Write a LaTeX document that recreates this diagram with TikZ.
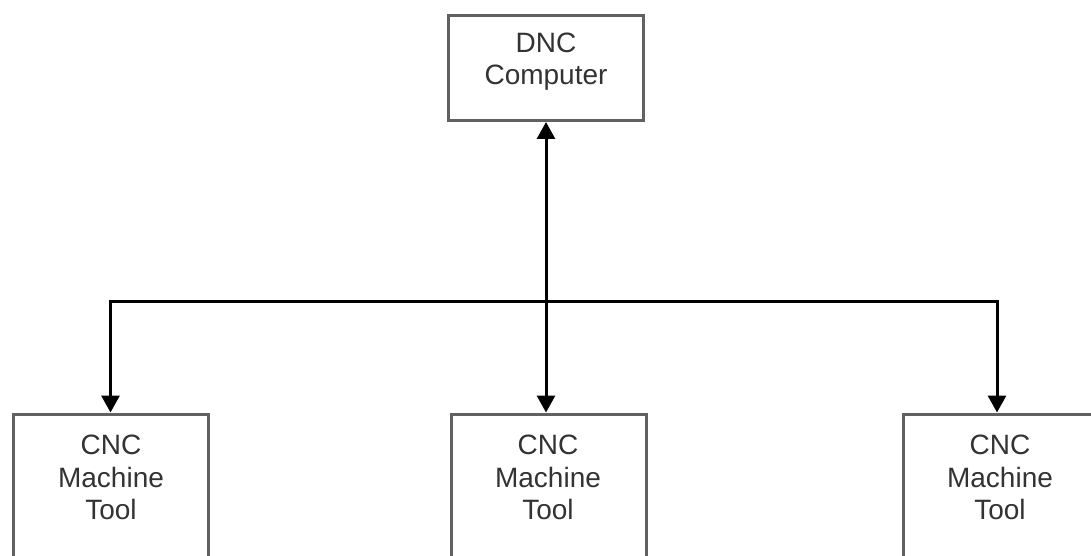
\documentclass[tikz,border=0pt]{standalone}
\usepackage{fontspec}
\setmainfont{Liberation Sans}
\usetikzlibrary{arrows.meta}
\begin{document}
\begin{tikzpicture}[x=1pt,y=-1pt,
  box/.style={draw=black!62, line width=3pt, inner sep=0pt, minimum width=195pt},
  topbox/.style={box, minimum height=105pt},
  botbox/.style={box, minimum height=220pt},
  lbl/.style={anchor=north, inner sep=0pt, align=center, text=black!80,
    font=\fontsize{28pt}{32.5pt}\selectfont},
  conn/.style={line width=3pt, black, {Triangle[length=17pt,width=18pt]}-{Triangle[length=17pt,width=18pt]}}
]
\useasboundingbox (0,0) rectangle (1091,556);
\clip (0,0) rectangle (1091,556);
\fill[white] (0,0) rectangle (1091,556);
% boxes
\node[topbox] (dnc) at (546,68) {};
\node[botbox] (left) at (110.5,524) {};
\node[botbox] (mid) at (548.5,524) {};
\node[botbox] (right) at (1000.5,524) {};
% labels
\node[lbl] (tdnc) at (546,32.5) {DNC\\Computer};
\node[lbl] (tleft) at (111,435) {CNC\\Machine\\Tool};
\node[lbl] (tmid) at (548,435) {CNC\\Machine\\Tool};
\node[lbl] (tright) at (1000,435) {CNC\\Machine\\Tool};
% bus
\coordinate (bl) at (110.5,301);
\coordinate (br) at (997,301);
\draw[conn] (bl |- left.north) -- (bl) -- (br) -- (br |- right.north);
\draw[conn] (dnc.south) -- (dnc.south |- mid.north);
\end{tikzpicture}
\end{document}
